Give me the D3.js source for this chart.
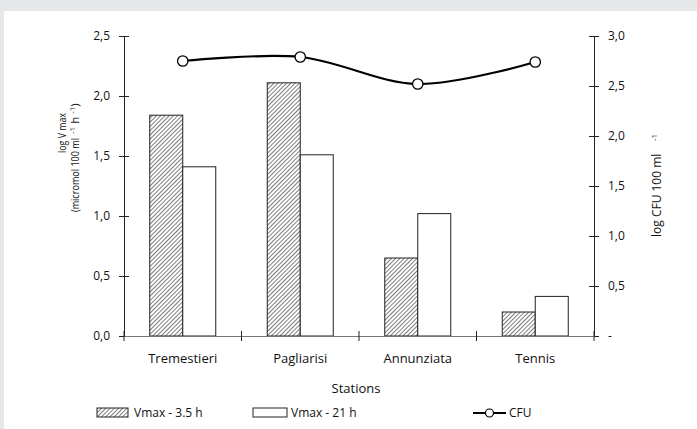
<!DOCTYPE html>
<html>
<head>
<meta charset="utf-8">
<script src="https://cdn.jsdelivr.net/npm/d3@7"></script>
<style>
  body { margin: 0; background: #e6e7e8; }
  text { font-family: "Open Sans", "Noto Sans", sans-serif; fill: #111; }
</style>
</head>
<body>
<div id="chart"></div>
<script>
// data
var stations = ["Tremestieri", "Pagliarisi", "Annunziata", "Tennis"];
var vmax35 = [1.84, 2.11, 0.65, 0.20];
var vmax21 = [1.41, 1.51, 1.02, 0.33];
var cfu = [2.75, 2.79, 2.52, 2.74];
var leftTicks = [0, 0.5, 1, 1.5, 2, 2.5];
var rightTicks = [0, 0.5, 1, 1.5, 2, 2.5, 3];

var svgWidth = 697, svgHeight = 429;
var plot = { left: 124, right: 594, top: 36, bottom: 336 };

var svg = d3.select("#chart").append("svg")
  .attr("width", svgWidth)
  .attr("height", svgHeight);

// hatch pattern for the 3.5 h bars
var defs = svg.append("defs");
var pat = defs.append("pattern")
  .attr("id", "hatch")
  .attr("patternUnits", "userSpaceOnUse")
  .attr("width", 3).attr("height", 3)
  .attr("patternTransform", "rotate(45)");
pat.append("rect").attr("width", 3).attr("height", 3).attr("fill", "#fff");
pat.append("line").attr("x1", 0).attr("y1", 0).attr("x2", 0).attr("y2", 3)
  .attr("stroke", "#444").attr("stroke-width", 1.4);

// white panel
svg.append("rect").attr("x", 4).attr("y", 11)
  .attr("width", svgWidth - 4).attr("height", svgHeight - 11)
  .attr("fill", "#fff");

var x = d3.scaleBand().domain(stations).range([plot.left, plot.right]).paddingInner(0).paddingOuter(0);
var barW = 33;
var yLeft = d3.scaleLinear().domain([0, 2.5]).range([plot.bottom, plot.top]);
var yRight = d3.scaleLinear().domain([0, 3]).range([plot.bottom, plot.top]);

var fmt = function(d) { return d3.format(".1f")(d).replace(".", ","); };

// left axis
var leftAxis = d3.axisLeft(yLeft).tickValues(leftTicks).tickFormat(fmt).tickSize(5).tickPadding(9);
var gl = svg.append("g").attr("transform", `translate(${plot.left},0)`).call(leftAxis);
gl.select(".domain").attr("stroke", "#222");
gl.selectAll(".tick line").attr("x2", -5).attr("x1", 5).attr("stroke", "#222");
gl.selectAll(".tick text").style("font-size", "12px").attr("x", -14);

// right axis
var rightAxis = d3.axisRight(yRight).tickValues(rightTicks)
  .tickFormat(function(d) { return d === 0 ? "-" : fmt(d); }).tickSize(5).tickPadding(9);
var gr = svg.append("g").attr("transform", `translate(${plot.right},0)`).call(rightAxis);
gr.select(".domain").attr("stroke", "#222");
gr.selectAll(".tick line").attr("x1", -5).attr("x2", 5).attr("stroke", "#222");
gr.selectAll(".tick text").style("font-size", "12px").attr("x", 14);

// bars
svg.selectAll(".bar35").data(stations).enter().append("rect")
  .attr("x", d => x(d) + x.bandwidth() / 2 - barW)
  .attr("y", (d, i) => yLeft(vmax35[i]))
  .attr("width", barW)
  .attr("height", (d, i) => plot.bottom - yLeft(vmax35[i]))
  .attr("fill", "url(#hatch)").attr("stroke", "#222").attr("stroke-width", 1);

svg.selectAll(".bar21").data(stations).enter().append("rect")
  .attr("x", d => x(d) + x.bandwidth() / 2)
  .attr("y", (d, i) => yLeft(vmax21[i]))
  .attr("width", barW)
  .attr("height", (d, i) => plot.bottom - yLeft(vmax21[i]))
  .attr("fill", "#fff").attr("stroke", "#222").attr("stroke-width", 1);

// bottom axis
var bottomAxis = d3.axisBottom(x).tickValues([]).tickSizeOuter(0);
var gb = svg.append("g").attr("transform", `translate(0,${plot.bottom})`).call(bottomAxis);
gb.select(".domain").attr("stroke", "#777");
var edges = stations.map(d => x(d)).concat([x.range()[1]]);
gb.selectAll(".edge").data(edges).enter().append("line")
  .attr("x1", d => d).attr("x2", d => d).attr("y1", -5).attr("y2", 5)
  .attr("stroke", "#222");
gb.selectAll(".lab").data(stations).enter().append("text")
  .attr("x", d => x(d) + x.bandwidth() / 2)
  .attr("y", 27)
  .attr("text-anchor", "middle")
  .style("font-size", "13px")
  .text(d => d);

// CFU line
var line = d3.line()
  .x(d => x(d) + x.bandwidth() / 2)
  .y((d, i) => yRight(cfu[i]))
  .curve(d3.curveCatmullRom.alpha(0.5));
svg.append("path").datum(stations).attr("d", line)
  .attr("fill", "none").attr("stroke", "#000").attr("stroke-width", 2.2);
svg.selectAll(".pt").data(stations).enter().append("circle")
  .attr("cx", d => x(d) + x.bandwidth() / 2)
  .attr("cy", (d, i) => yRight(cfu[i]))
  .attr("r", 5.2)
  .attr("fill", "#fff").attr("stroke", "#000").attr("stroke-width", 1.3);

// axis titles (rotated group: local x = -screen y, local y = screen x)
var rot = svg.append("g").attr("transform", "rotate(-90)");
rot.append("text").attr("x", -153).attr("y", 66)
  .attr("textLength", 40).attr("lengthAdjust", "spacingAndGlyphs")
  .style("font-size", "11.5px").text("log V max");
rot.append("text").attr("x", -212).attr("y", 79)
  .attr("textLength", 74).attr("lengthAdjust", "spacingAndGlyphs")
  .style("font-size", "11.5px").text("(micromol 100 ml");
var sup1 = rot.append("text").attr("x", -134).attr("y", 79).style("font-size", "11.5px");
sup1.append("tspan").attr("dy", -4).style("font-size", "8px").text("-1");
sup1.append("tspan").attr("dy", 4).text(" h ");
sup1.append("tspan").attr("dy", -4).style("font-size", "8px").text("-1");
sup1.append("tspan").attr("dy", 4).text(")");

rot.append("text").attr("x", -237).attr("y", 661)
  .style("font-size", "12px").text("log CFU 100 ml");
rot.append("text").attr("x", -141).attr("y", 657)
  .style("font-size", "8px").text("-1");

svg.append("text").attr("x", 356).attr("y", 393)
  .attr("text-anchor", "middle").style("font-size", "13px").text("Stations");

// legend
var legY = 413;
svg.append("rect").attr("x", 97).attr("y", legY - 5).attr("width", 31).attr("height", 9)
  .attr("fill", "url(#hatch)").attr("stroke", "#222");
svg.append("text").attr("x", 134).attr("y", legY + 4).style("font-size", "12px").text("Vmax - 3.5 h");
svg.append("rect").attr("x", 253).attr("y", legY - 5).attr("width", 34).attr("height", 9)
  .attr("fill", "#fff").attr("stroke", "#222");
svg.append("text").attr("x", 291).attr("y", legY + 4).style("font-size", "12px").text("Vmax - 21 h");
svg.append("line").attr("x1", 473).attr("x2", 506).attr("y1", legY).attr("y2", legY)
  .attr("stroke", "#000").attr("stroke-width", 2);
svg.append("circle").attr("cx", 489.5).attr("cy", legY).attr("r", 4)
  .attr("fill", "#fff").attr("stroke", "#000").attr("stroke-width", 1.2);
svg.append("text").attr("x", 509).attr("y", legY + 4).style("font-size", "12px").text("CFU");
</script>
</body>
</html>
